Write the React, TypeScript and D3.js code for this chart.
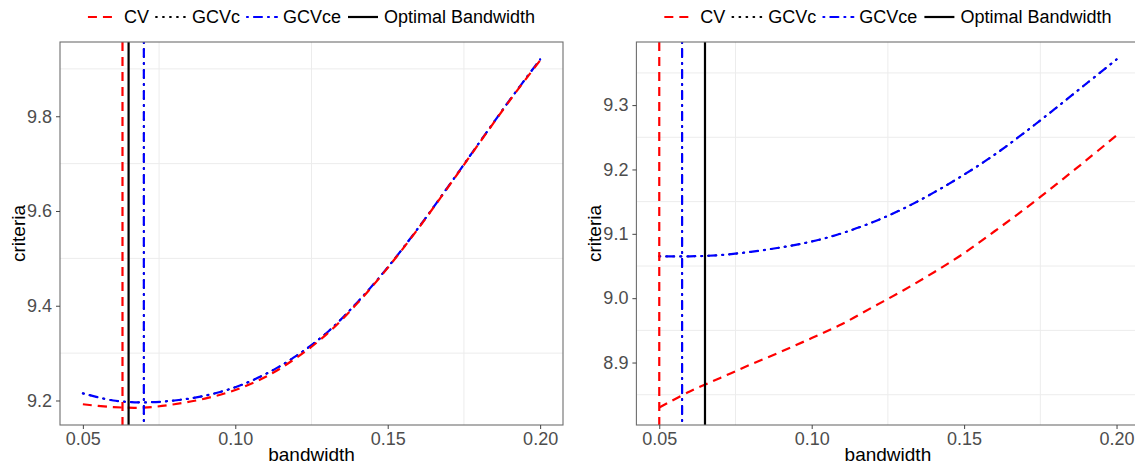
import React, { useEffect, useRef } from 'react';
import * as d3 from 'd3';

// Bandwidth grid shared by every criterion curve
const bandwidth = [0.05, 0.06, 0.07, 0.08, 0.09, 0.10, 0.11, 0.12, 0.13, 0.14, 0.15, 0.16, 0.17, 0.18, 0.19, 0.20];

// Left panel criteria
const leftCV = [9.192, 9.186, 9.185, 9.192, 9.204, 9.222, 9.250, 9.290, 9.340, 9.405, 9.480, 9.563, 9.652, 9.743, 9.833, 9.918];
const leftGCVc = [9.215, 9.200, 9.196, 9.200, 9.210, 9.228, 9.256, 9.294, 9.343, 9.407, 9.481, 9.564, 9.653, 9.744, 9.834, 9.920];
const leftGCVce = [9.215, 9.200, 9.196, 9.200, 9.210, 9.228, 9.256, 9.294, 9.343, 9.407, 9.481, 9.564, 9.653, 9.744, 9.834, 9.920];
// Selected bandwidths: CV, GCVc, GCVce, optimal
const leftSelected = [0.063, 0.07, 0.07, 0.065];

// Right panel criteria
const rightCV = [8.830, 8.855, 8.876, 8.897, 8.917, 8.938, 8.960, 8.986, 9.012, 9.040, 9.070, 9.104, 9.139, 9.176, 9.214, 9.253];
const rightGCVc = [9.065, 9.065, 9.067, 9.072, 9.079, 9.088, 9.101, 9.118, 9.139, 9.164, 9.192, 9.223, 9.258, 9.295, 9.333, 9.371];
const rightGCVce = [9.065, 9.065, 9.067, 9.072, 9.079, 9.088, 9.101, 9.118, 9.139, 9.164, 9.192, 9.223, 9.258, 9.295, 9.333, 9.371];
const rightSelected = [0.05, 0.0575, 0.0575, 0.065];

// Axis ticks
const xTicks = [0.05, 0.10, 0.15, 0.20];
const leftYTicks = [9.2, 9.4, 9.6, 9.8];
const rightYTicks = [8.9, 9.0, 9.1, 9.2, 9.3];

const seriesNames = ['CV', 'GCVc', 'GCVce', 'Optimal Bandwidth'];

type LineStyle = { color: string; dash: string | null; cap: string; width: number };
const lineStyles: LineStyle[] = [
  { color: '#FF0000', dash: '9 6', cap: 'butt', width: 2.2 },
  { color: '#000000', dash: '1 6', cap: 'round', width: 1.8 },
  { color: '#0000FF', dash: '1 6 8 6', cap: 'round', width: 2.2 },
  { color: '#000000', dash: null, cap: 'butt', width: 2.2 },
];

const FONT = '"Liberation Sans", Arial, Helvetica, sans-serif';
const W = 1135;
const H = 466;

type Panel = {
  id: string;
  left: number;
  right: number;
  top: number;
  bottom: number;
  curves: number[][]; // CV, GCVc, GCVce
  selected: number[];
  yTicks: number[];
};

const panels: Panel[] = [
  { id: 'a', left: 60, right: 563, top: 42, bottom: 425, curves: [leftCV, leftGCVc, leftGCVce], selected: leftSelected, yTicks: leftYTicks },
  { id: 'b', left: 636.4, right: 1139.4, top: 42, bottom: 425, curves: [rightCV, rightGCVc, rightGCVce], selected: rightSelected, yTicks: rightYTicks },
];

function expand(lo: number, hi: number): [number, number] {
  const r = hi - lo;
  return [lo - 0.05 * r, hi + 0.05 * r];
}

function minorBetween(ticks: number[], domain: [number, number]) {
  const step = ticks[1] - ticks[0];
  const out: number[] = [];
  for (let i = -1; i < ticks.length; i++) {
    const v = ticks[0] + (i + 0.5) * step;
    if (v > domain[0] && v < domain[1]) out.push(v);
  }
  return out;
}

function applyStroke(sel: any, s: LineStyle) {
  sel
    .attr('fill', 'none')
    .attr('stroke', s.color)
    .attr('stroke-width', s.width)
    .attr('stroke-linecap', s.cap);
  if (s.dash) sel.attr('stroke-dasharray', s.dash);
}

function drawPanel(svg: any, p: Panel) {
  const g = svg.append('g');
  const allX = [...bandwidth, ...p.selected];
  const allY = p.curves.flat();
  const xDom = expand(d3.min(allX)!, d3.max(allX)!);
  const yDom = expand(d3.min(allY)!, d3.max(allY)!);
  const x = d3.scaleLinear().domain(xDom).range([p.left, p.right]);
  const y = d3.scaleLinear().domain(yDom).range([p.bottom, p.top]);

  const clipId = `clip-${p.id}`;
  g.append('clipPath').attr('id', clipId)
    .append('rect')
    .attr('x', p.left).attr('y', p.top)
    .attr('width', p.right - p.left).attr('height', p.bottom - p.top);

  g.append('rect')
    .attr('x', p.left).attr('y', p.top)
    .attr('width', p.right - p.left).attr('height', p.bottom - p.top)
    .attr('fill', '#ffffff');

  // minor grid
  const grid = g.append('g').attr('stroke', '#ececec').attr('stroke-width', 1);
  minorBetween(xTicks, xDom).forEach((v) => {
    grid.append('line').attr('x1', x(v)).attr('x2', x(v)).attr('y1', p.top).attr('y2', p.bottom);
  });
  minorBetween(p.yTicks, yDom).forEach((v) => {
    grid.append('line').attr('x1', p.left).attr('x2', p.right).attr('y1', y(v)).attr('y2', y(v));
  });

  const plot = g.append('g').attr('clip-path', `url(#${clipId})`);
  const line = d3.line<number>()
    .x((_, i) => x(bandwidth[i]))
    .y((d) => y(d))
    .curve(d3.curveCatmullRom.alpha(0.5));

  // criterion curves: GCVc underneath, then GCVce, then CV
  [1, 2, 0].forEach((k) => {
    const path = plot.append('path').attr('d', line(p.curves[k]));
    applyStroke(path, lineStyles[k]);
  });

  // selected bandwidths
  [0, 1, 2, 3].forEach((k) => {
    const v = p.selected[k];
    const ln = plot.append('line')
      .attr('x1', x(v)).attr('x2', x(v))
      .attr('y1', p.top).attr('y2', p.bottom);
    applyStroke(ln, lineStyles[k]);
  });

  g.append('rect')
    .attr('x', p.left).attr('y', p.top)
    .attr('width', p.right - p.left).attr('height', p.bottom - p.top)
    .attr('fill', 'none').attr('stroke', '#6e6e6e').attr('stroke-width', 1.1);

  // axes
  const xAxis = g.append('g').attr('transform', `translate(0,${p.bottom})`)
    .call(d3.axisBottom(x).tickValues(xTicks).tickFormat(d3.format('.2f') as any).tickSize(4).tickPadding(3));
  const yAxis = g.append('g').attr('transform', `translate(${p.left},0)`)
    .call(d3.axisLeft(y).tickValues(p.yTicks).tickFormat(d3.format('.1f') as any).tickSize(4).tickPadding(4));
  [xAxis, yAxis].forEach((ax) => {
    ax.select('.domain').remove();
    ax.selectAll('line').attr('stroke', '#444').attr('stroke-width', 1);
    ax.selectAll('text').attr('fill', '#4d4d4d').style('font-size', '18px').style('font-family', FONT);
  });

  const cx = (p.left + p.right) / 2;
  const cy = (p.top + p.bottom) / 2;
  g.append('text')
    .attr('x', cx).attr('y', 461)
    .attr('text-anchor', 'middle')
    .style('font-family', FONT).style('font-size', '19px')
    .attr('fill', '#000').text('bandwidth');
  g.append('text')
    .attr('transform', `translate(${p.left - 35},${cy}) rotate(-90)`)
    .attr('text-anchor', 'middle')
    .style('font-family', FONT).style('font-size', '19px')
    .attr('fill', '#000').text('criteria');

  // legend above panel
  const KEY = 30;
  const leg = g.append('g');
  let lx = 0;
  seriesNames.forEach((name, k) => {
    const key = leg.append('line')
      .attr('x1', lx).attr('x2', lx + KEY).attr('y1', 17).attr('y2', 17);
    applyStroke(key, lineStyles[k]);
    const t = leg.append('text')
      .attr('x', lx + KEY + 6).attr('y', 23)
      .style('font-family', FONT).style('font-size', '18px')
      .attr('fill', '#000').text(name);
    const w = (t.node() as SVGTextElement).getComputedTextLength();
    lx += KEY + 6 + w + 7;
  });
  const total = lx - 7;
  leg.attr('transform', `translate(${cx - total / 2},0)`);
}

export default function App() {
  const ref = useRef<SVGSVGElement | null>(null);
  useEffect(() => {
    const svg = d3.select(ref.current);
    svg.selectAll('*').remove();
    panels.forEach((p) => drawPanel(svg, p));
  }, []);
  return (
    <svg
      ref={ref}
      width={W}
      height={H}
      style={{ position: 'absolute', left: 0, top: 0, background: '#ffffff' }}
    />
  );
}
